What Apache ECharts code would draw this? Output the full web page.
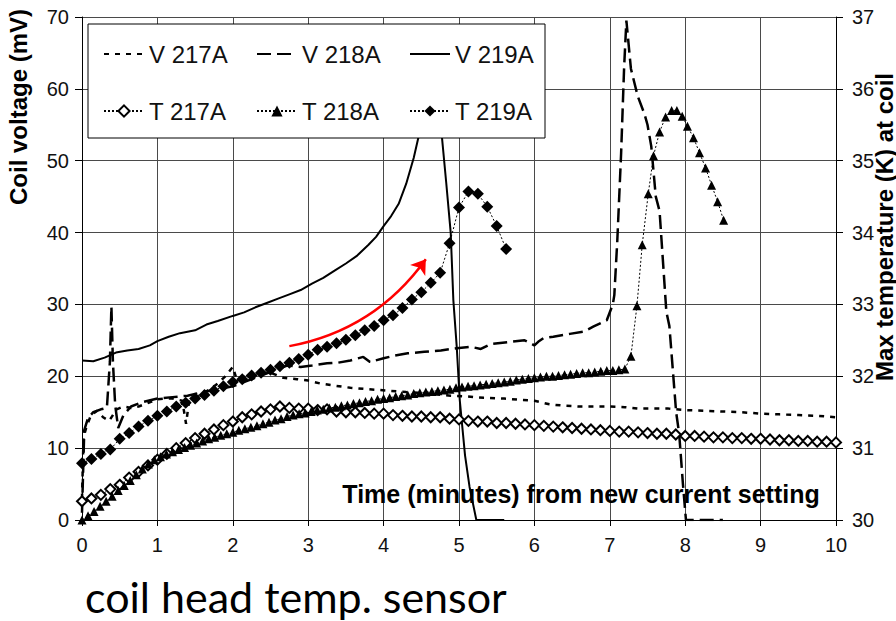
<!DOCTYPE html>
<html><head><meta charset="utf-8">
<script src="https://cdn.jsdelivr.net/npm/echarts@6/dist/echarts.min.js"></script>
<style>html,body{margin:0;padding:0;background:#fff}#c{width:896px;height:621px}</style>
</head><body><div id="c"></div>
<script>
// ---- axis ticks ----
const xTicks = {min: 0, max: 10, step: 1};
const voltTicks = {min: 0, max: 70, step: 10};
const tempTicks = {min: 30, max: 37, step: 1};

// ---- series names ----
const seriesNames = ['V 217A', 'V 218A', 'V 219A', 'T 217A', 'T 218A', 'T 219A'];

// ---- coil voltage (mV) : [minutes, mV] ----
const v217A = [[0,3.0],[0.02,11.5],[0.06,13.0],[0.12,14.6],[0.2,15.2],[0.28,14.3],[0.36,13.8],[0.46,15.4],[0.55,15.8],[0.65,15.6],[0.75,15.8],[0.88,16.3],[1.0,16.8],[1.1,16.9],[1.2,16.9],[1.33,16.6],[1.38,13.4],[1.42,16.5],[1.5,17.0],[1.6,17.6],[1.7,18.2],[1.8,19.0],[1.9,20.0],[2.0,21.3],[2.05,19.6],[2.15,20.0],[2.3,20.3],[2.5,20.5],[2.67,19.8],[2.85,19.6],[3.0,19.4],[3.16,19.0],[3.35,18.7],[3.56,18.4],[3.8,18.2],[4.05,18.0],[4.3,17.8],[4.6,17.6],[4.89,17.3],[5.1,17.2],[5.33,17.0],[5.6,16.9],[5.83,16.7],[6.0,16.6],[6.2,16.1],[6.4,15.9],[6.58,15.8],[6.8,15.8],[7.0,15.8],[7.2,15.7],[7.38,15.5],[7.6,15.5],[7.78,15.5],[8.0,15.3],[8.25,15.2],[8.5,15.1],[8.75,15.0],[9.0,14.8],[9.25,14.7],[9.5,14.6],[9.75,14.5],[10.0,14.3]];
const v218A = [[0,1.0],[0.03,12.5],[0.08,14.2],[0.15,15.0],[0.25,15.4],[0.33,15.6],[0.37,22.0],[0.39,29.7],[0.41,22.0],[0.44,16.0],[0.48,12.8],[0.55,14.6],[0.65,15.8],[0.8,16.4],[1.0,16.9],[1.2,17.1],[1.4,17.3],[1.6,17.8],[1.8,18.2],[2.0,18.6],[2.2,19.4],[2.4,20.2],[2.55,20.8],[2.72,21.5],[2.9,21.3],[3.05,21.5],[3.25,21.8],[3.4,21.9],[3.56,22.2],[3.73,22.7],[3.82,22.0],[4.0,22.5],[4.15,22.9],[4.32,23.2],[4.54,23.4],[4.76,23.6],[4.97,23.9],[5.16,24.1],[5.29,23.8],[5.42,24.5],[5.69,24.8],[5.87,25.0],[5.95,24.6],[6.0,24.3],[6.05,24.8],[6.12,25.3],[6.25,25.5],[6.47,25.9],[6.65,26.2],[6.78,26.9],[6.96,27.8],[7.04,30.0],[7.06,31.3],[7.1,39.0],[7.15,51.0],[7.19,63.0],[7.22,69.5],[7.28,62.8],[7.37,59.0],[7.46,56.5],[7.5,55.0],[7.55,52.0],[7.61,45.0],[7.66,43.0],[7.75,29.0],[7.79,27.0],[7.88,15.0],[7.92,12.0],[7.97,5.0],[8.01,0.0],[8.5,0.0]];
const v219A = [[0,22.2],[0.15,22.1],[0.3,22.6],[0.45,23.3],[0.6,23.6],[0.75,23.8],[0.9,24.3],[1.0,24.9],[1.15,25.5],[1.3,26.0],[1.5,26.4],[1.65,27.2],[1.8,27.7],[2.0,28.4],[2.15,28.9],[2.3,29.6],[2.45,30.2],[2.6,30.8],[2.75,31.4],[2.9,32.0],[3.05,32.9],[3.2,33.7],[3.35,34.7],[3.5,35.7],[3.65,36.8],[3.8,38.3],[3.9,39.4],[4.0,40.9],[4.1,42.3],[4.2,44.0],[4.3,46.8],[4.4,50.4],[4.5,55.0],[4.6,61.0],[4.68,64.0],[4.77,53.7],[4.83,47.0],[4.89,40.0],[4.925,30.6],[4.97,24.1],[5.01,16.7],[5.08,9.0],[5.14,4.6],[5.23,0.0],[5.6,0.0]];

// ---- max temperature at coil (K) : [minutes, K] ----
const t217A = [[0,30.26],[0.125,30.30],[0.25,30.35],[0.375,30.43],[0.5,30.49],[0.625,30.59],[0.75,30.67],[0.875,30.76],[1.0,30.84],[1.125,30.92],[1.25,31.00],[1.375,31.07],[1.5,31.14],[1.625,31.20],[1.75,31.26],[1.875,31.32],[2.0,31.37],[2.125,31.43],[2.25,31.47],[2.375,31.51],[2.5,31.54],[2.625,31.58],[2.75,31.56],[2.875,31.55],[3.0,31.55],[3.125,31.53],[3.25,31.54],[3.375,31.51],[3.5,31.50],[3.625,31.50],[3.75,31.49],[3.875,31.48],[4.0,31.48],[4.125,31.46],[4.25,31.45],[4.375,31.44],[4.5,31.44],[4.625,31.43],[4.75,31.43],[4.875,31.41],[5.0,31.40],[5.125,31.38],[5.25,31.37],[5.375,31.37],[5.5,31.35],[5.625,31.35],[5.75,31.34],[5.875,31.33],[6.0,31.32],[6.125,31.31],[6.25,31.30],[6.375,31.29],[6.5,31.28],[6.625,31.27],[6.75,31.26],[6.875,31.25],[7.0,31.24],[7.125,31.23],[7.25,31.23],[7.375,31.22],[7.5,31.21],[7.625,31.20],[7.75,31.20],[7.875,31.19],[8.0,31.17],[8.125,31.17],[8.25,31.16],[8.375,31.15],[8.5,31.15],[8.625,31.14],[8.75,31.14],[8.875,31.13],[9.0,31.13],[9.125,31.12],[9.25,31.11],[9.375,31.11],[9.5,31.10],[9.625,31.10],[9.75,31.09],[9.875,31.09],[10.0,31.08]];
const t218A = [[0,30.00],[0.08,30.06],[0.16,30.12],[0.24,30.19],[0.32,30.26],[0.40,30.33],[0.48,30.41],[0.56,30.48],[0.64,30.55],[0.72,30.63],[0.80,30.71],[0.88,30.78],[0.96,30.84],[1.04,30.88],[1.12,30.92],[1.20,30.95],[1.28,30.98],[1.36,31.01],[1.44,31.04],[1.52,31.07],[1.60,31.10],[1.68,31.13],[1.76,31.15],[1.84,31.18],[1.92,31.20],[2.00,31.22],[2.08,31.25],[2.16,31.27],[2.24,31.29],[2.32,31.31],[2.40,31.34],[2.48,31.36],[2.56,31.39],[2.64,31.41],[2.72,31.44],[2.80,31.46],[2.88,31.48],[2.96,31.49],[3.04,31.51],[3.12,31.53],[3.20,31.54],[3.28,31.56],[3.36,31.57],[3.44,31.59],[3.52,31.60],[3.60,31.62],[3.68,31.63],[3.76,31.65],[3.84,31.66],[3.92,31.68],[4.00,31.69],[4.08,31.70],[4.16,31.72],[4.24,31.73],[4.32,31.74],[4.40,31.76],[4.48,31.77],[4.56,31.78],[4.64,31.79],[4.72,31.80],[4.80,31.81],[4.88,31.82],[4.96,31.84],[5.04,31.85],[5.12,31.86],[5.20,31.87],[5.28,31.88],[5.36,31.89],[5.44,31.90],[5.52,31.91],[5.60,31.92],[5.68,31.93],[5.76,31.95],[5.84,31.96],[5.92,31.97],[6.00,31.98],[6.08,31.99],[6.16,32.00],[6.24,32.00],[6.32,32.01],[6.40,32.02],[6.48,32.03],[6.56,32.04],[6.64,32.05],[6.72,32.05],[6.80,32.06],[6.88,32.07],[6.96,32.08],[7.04,32.08],[7.12,32.09],[7.20,32.10],[7.28,32.28],[7.36,32.98],[7.43,33.83],[7.51,34.54],[7.58,35.07],[7.66,35.40],[7.74,35.61],[7.82,35.70],[7.89,35.70],[7.96,35.62],[8.03,35.48],[8.11,35.32],[8.19,35.11],[8.27,34.90],[8.35,34.66],[8.43,34.43],[8.51,34.17]];
const t219A = [[0,30.79],[0.125,30.85],[0.25,30.92],[0.375,30.98],[0.5,31.13],[0.625,31.21],[0.75,31.30],[0.875,31.38],[1.0,31.45],[1.125,31.51],[1.25,31.58],[1.375,31.63],[1.5,31.69],[1.625,31.74],[1.75,31.80],[1.875,31.86],[2.0,31.92],[2.125,31.96],[2.25,32.01],[2.375,32.05],[2.5,32.09],[2.625,32.14],[2.75,32.19],[2.875,32.24],[3.0,32.30],[3.125,32.37],[3.25,32.41],[3.375,32.46],[3.5,32.51],[3.625,32.57],[3.75,32.64],[3.875,32.70],[4.0,32.78],[4.125,32.85],[4.25,32.95],[4.375,33.07],[4.5,33.17],[4.625,33.30],[4.75,33.44],[4.875,33.85],[5.0,34.35],[5.125,34.57],[5.25,34.54],[5.375,34.36],[5.5,34.09],[5.625,33.77]];

// ---- red annotation arrow (minutes, mV) ----
const arrowFrom = [2.75, 24.2];
const arrowTo = [4.56, 36.3];

// ---- texts ----
const xTitle = 'Time (minutes) from new current setting';
const yLeftTitle = 'Coil voltage (mV)';
const yRightTitle = 'Max temperature (K) at coil';
const caption = 'coil head temp. sensor';

const FONT = '"Liberation Sans", Arial, sans-serif';
const chart = echarts.init(document.getElementById('c'), null, {renderer: 'svg'});

const axisLabelStyle = {color: '#111', fontSize: 20, fontFamily: FONT};
const gridLine = {show: true, lineStyle: {color: '#4a4a4a', width: 1}};

chart.setOption({
  animation: false,
  backgroundColor: '#fff',
  grid: {left: 82, right: 60, top: 17, bottom: 101, containLabel: false},
  xAxis: {
    type: 'value', min: xTicks.min, max: xTicks.max, interval: xTicks.step,
    axisLine: {show: true, onZero: false, lineStyle: {color: '#000', width: 1}},
    axisTick: {show: true, length: 6, lineStyle: {color: '#000'}},
    axisLabel: Object.assign({margin: 15}, axisLabelStyle),
    splitLine: gridLine
  },
  yAxis: [
    {
      type: 'value', min: voltTicks.min, max: voltTicks.max, interval: voltTicks.step,
      axisLine: {show: true, lineStyle: {color: '#000', width: 1}},
      axisTick: {show: true, length: 7, lineStyle: {color: '#000'}},
      axisLabel: Object.assign({margin: 13}, axisLabelStyle),
      splitLine: gridLine
    },
    {
      type: 'value', position: 'right', min: tempTicks.min, max: tempTicks.max, interval: tempTicks.step,
      axisLine: {show: true, lineStyle: {color: '#000', width: 1}},
      axisTick: {show: true, length: 7, lineStyle: {color: '#000'}},
      axisLabel: Object.assign({margin: 16}, axisLabelStyle),
      splitLine: {show: false}
    }
  ],
  legend: {
    left: 88, top: 24, orient: 'horizontal', width: 445,
    padding: [11, 2, 8, 15],
    itemGap: 19, itemWidth: 40, itemHeight: 14,
    backgroundColor: '#fff', borderColor: '#000', borderWidth: 1, borderRadius: 0,
    selectedMode: false,
    textStyle: {fontSize: 24, fontFamily: FONT, color: '#111', width: 88, lineHeight: 38},
    data: [
      {name: seriesNames[0], itemStyle: {opacity: 0}},
      {name: seriesNames[1], itemStyle: {opacity: 0}},
      {name: seriesNames[2], itemStyle: {opacity: 0}},
      {name: seriesNames[3]},
      {name: seriesNames[4]},
      {name: seriesNames[5]}
    ]
  },
  series: [
    {name: seriesNames[3], type: 'line', yAxisIndex: 1, data: t217A, symbol: 'emptyDiamond', symbolSize: 10, showAllSymbol: true,
      itemStyle: {color: '#000', borderWidth: 1}, lineStyle: {color: '#000', width: 1, type: [2, 2]}, silent: true, z: 3},
    {name: seriesNames[4], type: 'line', yAxisIndex: 1, data: t218A, symbol: 'triangle', symbolSize: 9, showAllSymbol: true,
      itemStyle: {color: '#000'}, lineStyle: {color: '#000', width: 1, type: [2, 2]}, silent: true, z: 3},
    {name: seriesNames[5], type: 'line', yAxisIndex: 1, data: t219A, symbol: 'diamond', symbolSize: 12, showAllSymbol: true,
      itemStyle: {color: '#000'}, lineStyle: {color: '#000', width: 1, type: [2, 2]}, silent: true, z: 3},
    {name: seriesNames[0], type: 'line', data: v217A, symbol: 'none', itemStyle: {color: '#000'},
      lineStyle: {color: '#000', width: 2.5, type: [5, 6]}, silent: true, z: 2},
    {name: seriesNames[1], type: 'line', data: v218A, symbol: 'none', itemStyle: {color: '#000'},
      lineStyle: {color: '#000', width: 2.5, type: [14, 6]}, silent: true, z: 2},
    {name: seriesNames[2], type: 'line', data: v219A, symbol: 'none', itemStyle: {color: '#000'},
      lineStyle: {color: '#000', width: 2}, silent: true, z: 2},
    {type: 'lines', coordinateSystem: 'cartesian2d', xAxisIndex: 0, yAxisIndex: 0, silent: true, z: 4,
      symbol: ['none', 'arrow'], symbolSize: 14,
      lineStyle: {color: '#ff0000', width: 2.5, curveness: -0.2, opacity: 1},
      data: [{coords: [arrowFrom, arrowTo]}]}
  ],
  graphic: [
    {type: 'text', x: 18, y: 107, rotation: Math.PI / 2, silent: true,
      style: {text: yLeftTitle, font: 'bold 24px ' + FONT, fill: '#000', align: 'center', verticalAlign: 'middle', textAlign: 'center', textVerticalAlign: 'middle'}},
    {type: 'text', x: 884, y: 227, rotation: Math.PI / 2, silent: true,
      style: {text: yRightTitle, font: 'bold 24px ' + FONT, fill: '#000', align: 'center', verticalAlign: 'middle', textAlign: 'center', textVerticalAlign: 'middle'}},
    {type: 'text', x: 581, y: 494, silent: true, z: 10,
      style: {text: xTitle, font: 'bold 25px ' + FONT, fill: '#000', align: 'center', verticalAlign: 'middle', textAlign: 'center', textVerticalAlign: 'middle'}},
    {type: 'text', x: 85, y: 596, silent: true,
      style: {text: caption, font: '43px Lato, "Open Sans", sans-serif', fill: '#000', align: 'left', verticalAlign: 'middle', textAlign: 'left', textVerticalAlign: 'middle'}}
  ]
});
</script>
</body></html>
